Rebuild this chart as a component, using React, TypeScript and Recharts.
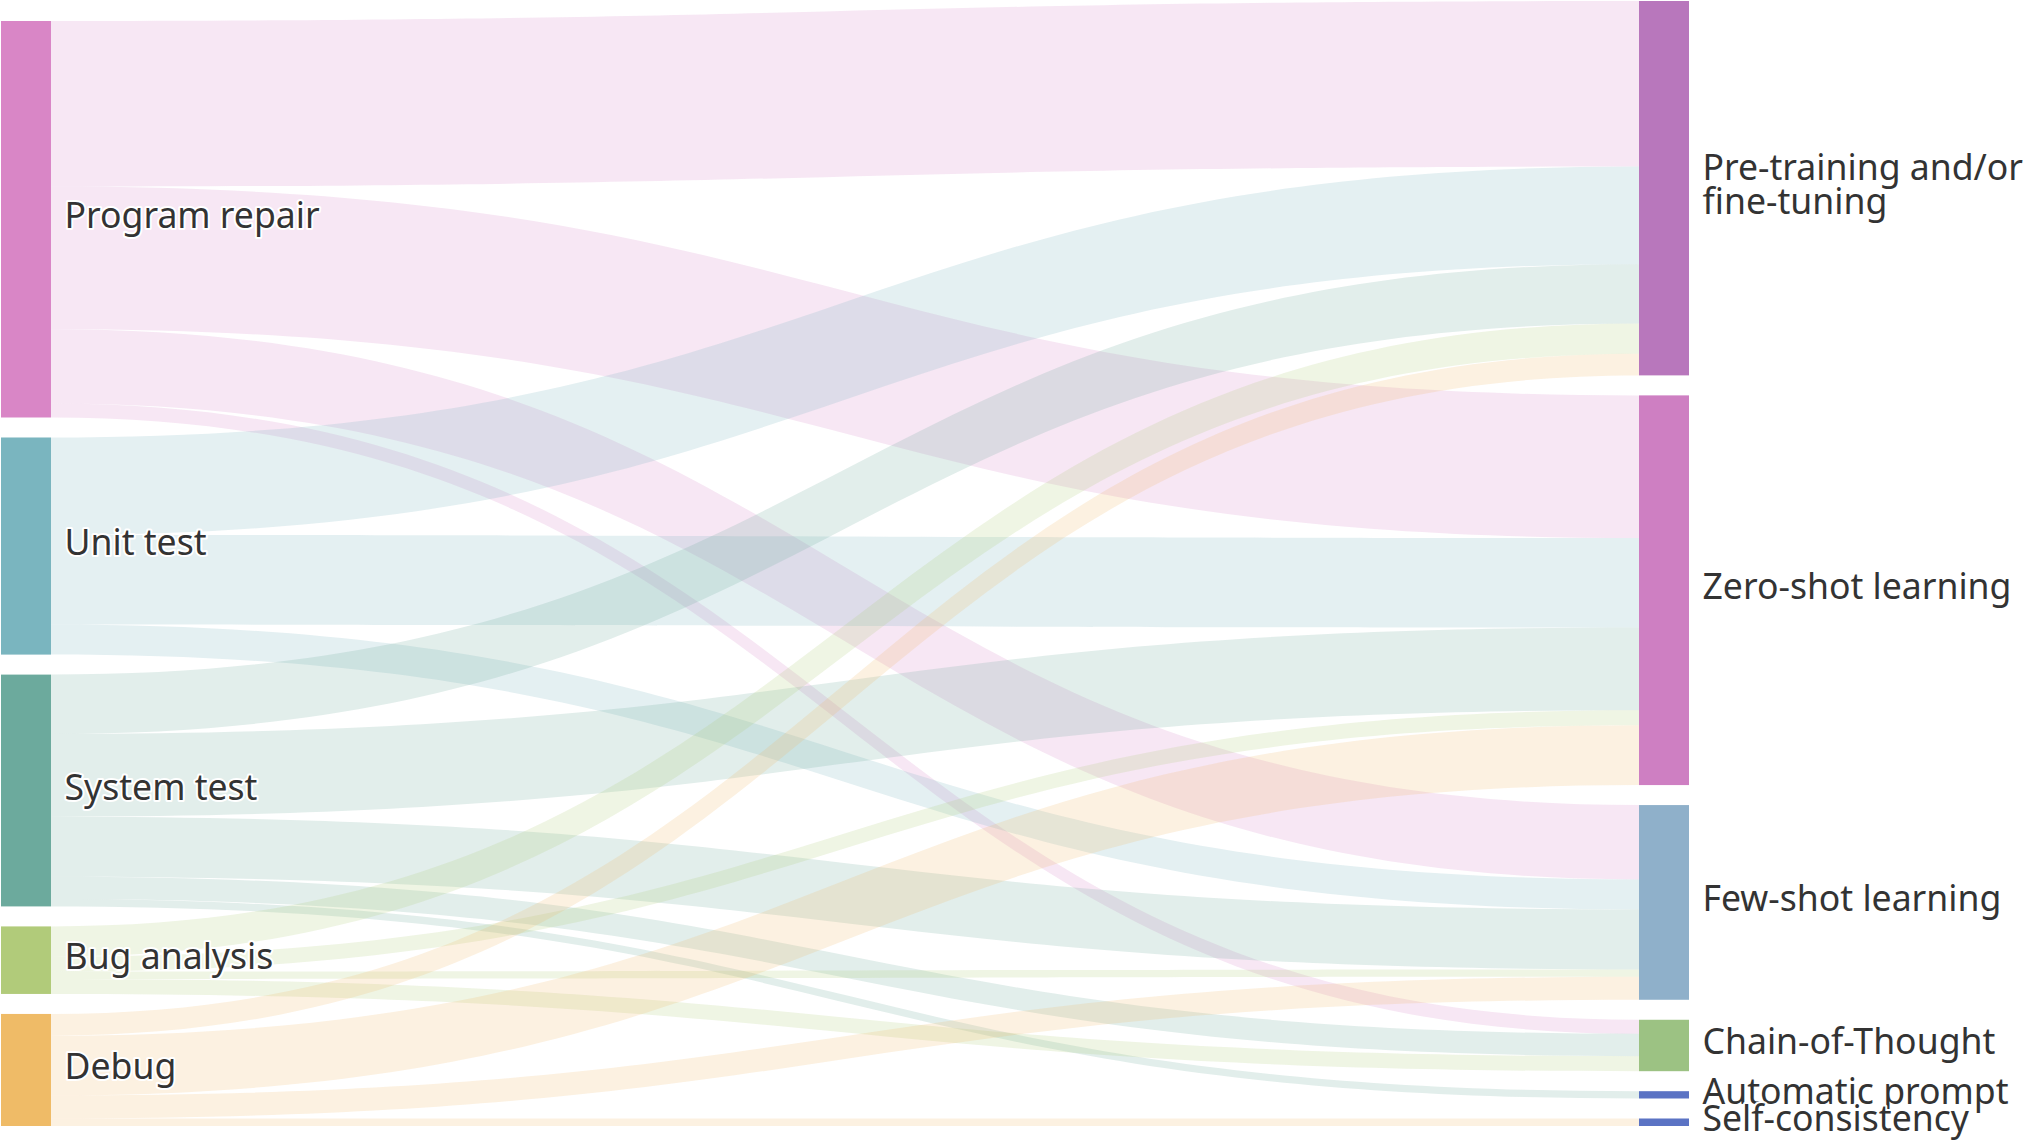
import React from 'react';
import { Sankey } from 'recharts';

// Source categories (left column) and target techniques (right column)
const sourceNames = ['Program repair', 'Unit test', 'System test', 'Bug analysis', 'Debug'];
const targetNames = [
  'Pre-training and/or\nfine-tuning',
  'Zero-shot learning',
  'Few-shot learning',
  'Chain-of-Thought',
  'Automatic prompt',
  'Self-consistency',
];

const sourceColors = ['#d986c6', '#7ab5bf', '#6caa9d', '#b1cb7a', '#efbb67'];
const targetColors = ['#b877bc', '#ce7fc2', '#8fb0ca', '#9cc283', '#5b73c4', '#5b73c4'];

// Flow values from each source to each target (order of targetNames)
const programRepair = [165.5, 142.5, 74.3, 14, 0, 0];
const unitTest = [97.5, 89.5, 30, 0, 0, 0];
const systemTest = [59.3, 82.7, 60, 22.4, 7.3, 0];
const bugAnalysis = [30.2, 15, 7.3, 15, 0, 0];
const debug = [21.7, 59.8, 23, 0, 0, 7.5];

const flowRows = [programRepair, unitTest, systemTest, bugAnalysis, debug];

const nodeNames = [...sourceNames, ...targetNames];
const nodeColors = [...sourceColors, ...targetColors];

const links: { source: number; target: number; value: number }[] = [];
flowRows.forEach((row, s) => {
  row.forEach((v, t) => {
    if (v > 0) links.push({ source: s, target: sourceNames.length + t, value: v });
  });
});

const data = {
  nodes: nodeNames.map((name) => ({ name })),
  links,
};

const LinkShape = (props: any) => {
  const { sourceX, sourceY, sourceControlX, targetX, targetY, targetControlX, linkWidth, index } = props;
  const h = linkWidth / 2;
  const color = nodeColors[links[index].source];
  const d =
    `M${sourceX},${sourceY - h} ` +
    `C${sourceControlX},${sourceY - h} ${targetControlX},${targetY - h} ${targetX},${targetY - h} ` +
    `L${targetX},${targetY + h} ` +
    `C${targetControlX},${targetY + h} ${sourceControlX},${sourceY + h} ${sourceX},${sourceY + h} Z`;
  return <path d={d} fill={color} fillOpacity={0.2} stroke="none" />;
};

const NodeShape = (props: any) => {
  const { x, y, width, height, index } = props;
  const name = nodeNames[index];
  const lines = name.split('\n');
  const cy = y + height / 2 + 9;
  const lh = 34.6;
  const tx = x + width + 13.5;
  return (
    <g>
      <rect x={x} y={y} width={width} height={height} fill={nodeColors[index]} />
      <text
        x={tx}
        y={cy}
        fontFamily="'Noto Sans', sans-serif"
        fontSize={35.6}
        fill="#333"
        stroke="#fff"
        strokeWidth={4}
        strokeLinejoin="round"
        paintOrder="stroke"
      >
        {lines.map((l: string, i: number) => (
          <tspan key={i} x={tx} y={cy + (i - (lines.length - 1) / 2) * lh}>
            {l}
          </tspan>
        ))}
      </text>
    </g>
  );
};

export default function App() {
  return (
    <div style={{ position: 'absolute', left: 0, top: 0, width: 2028, height: 1141 }}>
      <Sankey
        width={2028}
        height={1141}
        data={data}
        nodeWidth={50}
        nodePadding={20}
        margin={{ top: 1, bottom: 15, left: 1, right: 339 }}
        sort={false}
        iterations={32}
        link={<LinkShape />}
        node={<NodeShape />}
      />
    </div>
  );
}
